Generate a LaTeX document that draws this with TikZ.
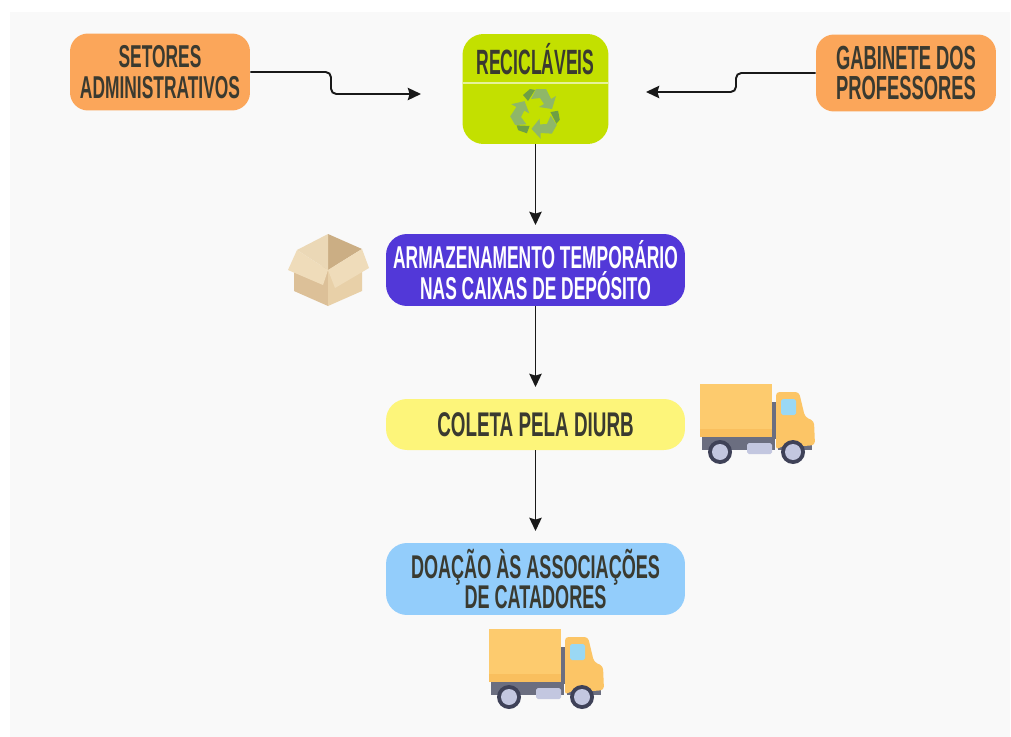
\documentclass[tikz,border=0pt]{standalone}
\usepackage{fontspec}
\setmainfont[FakeStretch=0.55]{Liberation Sans}
\newfontfamily\headfont[FakeStretch=0.5]{Liberation Sans}
\usetikzlibrary{arrows.meta}
\definecolor{pagebg}{HTML}{F9F9F9}
\definecolor{inktext}{HTML}{3A3A30}
\definecolor{orangebox}{HTML}{FBA65A}
\definecolor{limebox}{HTML}{C3E000}
\definecolor{limeline}{HTML}{E6F29A}
\definecolor{violetbox}{HTML}{5238D8}
\definecolor{yellowbox}{HTML}{FDF57A}
\definecolor{bluebox}{HTML}{93CDFB}
\definecolor{cargo}{HTML}{FDCB6E}
\definecolor{cargolow}{HTML}{F9BF5E}
\definecolor{cabin}{HTML}{FCC566}
\definecolor{chassis}{HTML}{6B6E80}
\definecolor{tyre}{HTML}{3F4258}
\definecolor{tankc}{HTML}{C3C7E0}
\definecolor{glass}{HTML}{9AD8F4}
\definecolor{recycledark}{HTML}{6E9F45}
\definecolor{recyclelight}{HTML}{8FB768}
\definecolor{boxleft}{HTML}{DCC098}
\definecolor{boxright}{HTML}{E8D0A8}
\definecolor{boxinner}{HTML}{CBAE84}
\definecolor{boxback}{HTML}{EBD8B6}
\definecolor{boxflap}{HTML}{EFDCBA}
\tikzset{
  x=0.02cm,y=-0.02cm,
  flowbox/.style={draw=none,minimum width=5.98cm,minimum height=1.44cm,rounded corners=0.42cm,inner sep=0pt,align=center,font=\bfseries\fontsize{18}{17.6}\selectfont,text=inktext},
  sidebox/.style={flowbox,fill=orangebox,minimum width=3.6cm,minimum height=1.54cm,rounded corners=0.36cm},
  flowarrow/.style={draw=black!90,line width=1.1pt,rounded corners=3pt,-{Stealth[length=7.5pt,width=7pt,inset=1pt]}},
  pics/truck/.style={code={
    \fill[chassis] (2,53) rectangle (75,66);
    \fill[chassis] (72,18) rectangle (78,55);
    \fill[chassis] (78,60) rectangle (112,66);
    \fill[tankc,rounded corners=1pt] (47,59) rectangle (72,70);
    \fill[cabin,rounded corners=2pt] (76,8) -- (99,8) -- (105,33) -- (114,37) -- (115,61) -- (105,62) -- (82,62) -- (76,66) -- cycle;
    \fill[glass,rounded corners=1pt] (81,15) rectangle (96,31);
    \fill[cargo] (0,0) rectangle (72,46);
    \fill[cargolow] (0,45) rectangle (72,53);
    \foreach \wx in {20,93}{
      \fill[tyre] (\wx,68) circle (0.24cm);
      \fill[tankc] (\wx,68) circle (0.16cm);
    }
  }},
  pics/recycle/.style={code={
    \foreach \ang in {0,120,240}{
      \begin{scope}[rotate=\ang]
        \fill[recycledark] (-13,-18) -- (-6,-24) -- (-1,-23) -- (-8,-12) -- cycle;
        \fill[recyclelight] (0,-24) -- (10,-24) -- (15,-14) -- (20,-17) -- (16,-4) -- (3,-6) -- (8,-9) -- (4,-15) -- (-5,-14) -- cycle;
      \end{scope}
    }
  }}
}
\begin{document}
\begin{tikzpicture}
\fill[white] (0,0) rectangle (1011,737);
\fill[pagebg] (10,12) rectangle (1010,737);
% boxes
\node[sidebox] (setores) at (160,72) {SETORES\\ADMINISTRATIVOS};
\node[sidebox,font=\bfseries\fontsize{19}{17.6}\selectfont] (gabinete) at (906,73) {GABINETE DOS\\PROFESSORES};
\node[flowbox,fill=limebox,minimum width=2.92cm,minimum height=2.2cm] (recic) at (535.5,89) {};
\node[font=\headfont\bfseries\fontsize{20}{20}\selectfont,text=inktext,inner sep=0pt] (reciclabel) at (535.5,59) {RECICLÁVEIS};
\coordinate (divl) at (462,83);
\coordinate (divr) at (608,83);
\draw[draw=limeline,line width=1.3pt] (divl) -- (divr);
\pic (recycleicon) at (536,113) {recycle};
\node[flowbox,fill=violetbox,text=white] (armaz) at (535.5,270) {ARMAZENAMENTO TEMPORÁRIO\\NAS CAIXAS DE DEPÓSITO};
\node[flowbox,fill=yellowbox,minimum height=1.02cm,font=\bfseries\fontsize{19.5}{20}\selectfont] (coleta) at (535.5,424.5) {COLETA PELA DIURB};
\node[flowbox,fill=bluebox,font=\bfseries\fontsize{18.7}{17.6}\selectfont] (doacao) at (535.5,579) {DOAÇÃO ÀS ASSOCIAÇÕES\\DE CATADORES};
% cardboard box
\fill[boxleft] (294,258) -- (328,268) -- (328,306) -- (294,291) -- cycle;
\fill[boxright] (328,268) -- (362,258) -- (362,291) -- (328,306) -- cycle;
\fill[boxinner] (328,234) -- (362,249) -- (328,270) -- cycle;
\fill[boxback] (328,234) -- (297,250) -- (328,270) -- cycle;
\fill[boxflap] (288,270) -- (297,250) -- (328,270) -- (323,285) -- cycle;
\fill[boxflap] (328,270) -- (362,249) -- (369,268) -- (335,288) -- cycle;
% trucks
\pic (truckone) at (700,384) {truck};
\pic (trucktwo) at (489,629) {truck};
% free ends and elbows
\coordinate (setbendA) at (331,72);
\coordinate (setbendB) at (331,94);
\coordinate (recleft) at (421,94);
\coordinate (gabbendA) at (736,73);
\coordinate (gabbendB) at (736,92);
\coordinate (recright) at (646,92);
\coordinate (armazin) at (535.5,225);
\coordinate (coletain) at (535.5,387);
\coordinate (doacaoin) at (535.5,531);
% arrows
\draw [flowarrow] (setores.east) -- (setbendA) -- (setbendB) -- (recleft);
\draw [flowarrow] (gabinete.west) -- (gabbendA) -- (gabbendB) -- (recright);
\draw [flowarrow] (recic.south) -- (armazin);
\draw [flowarrow] (armaz.south) -- (coletain);
\draw [flowarrow] (coleta.south) -- (doacaoin);
\end{tikzpicture}
\end{document}
